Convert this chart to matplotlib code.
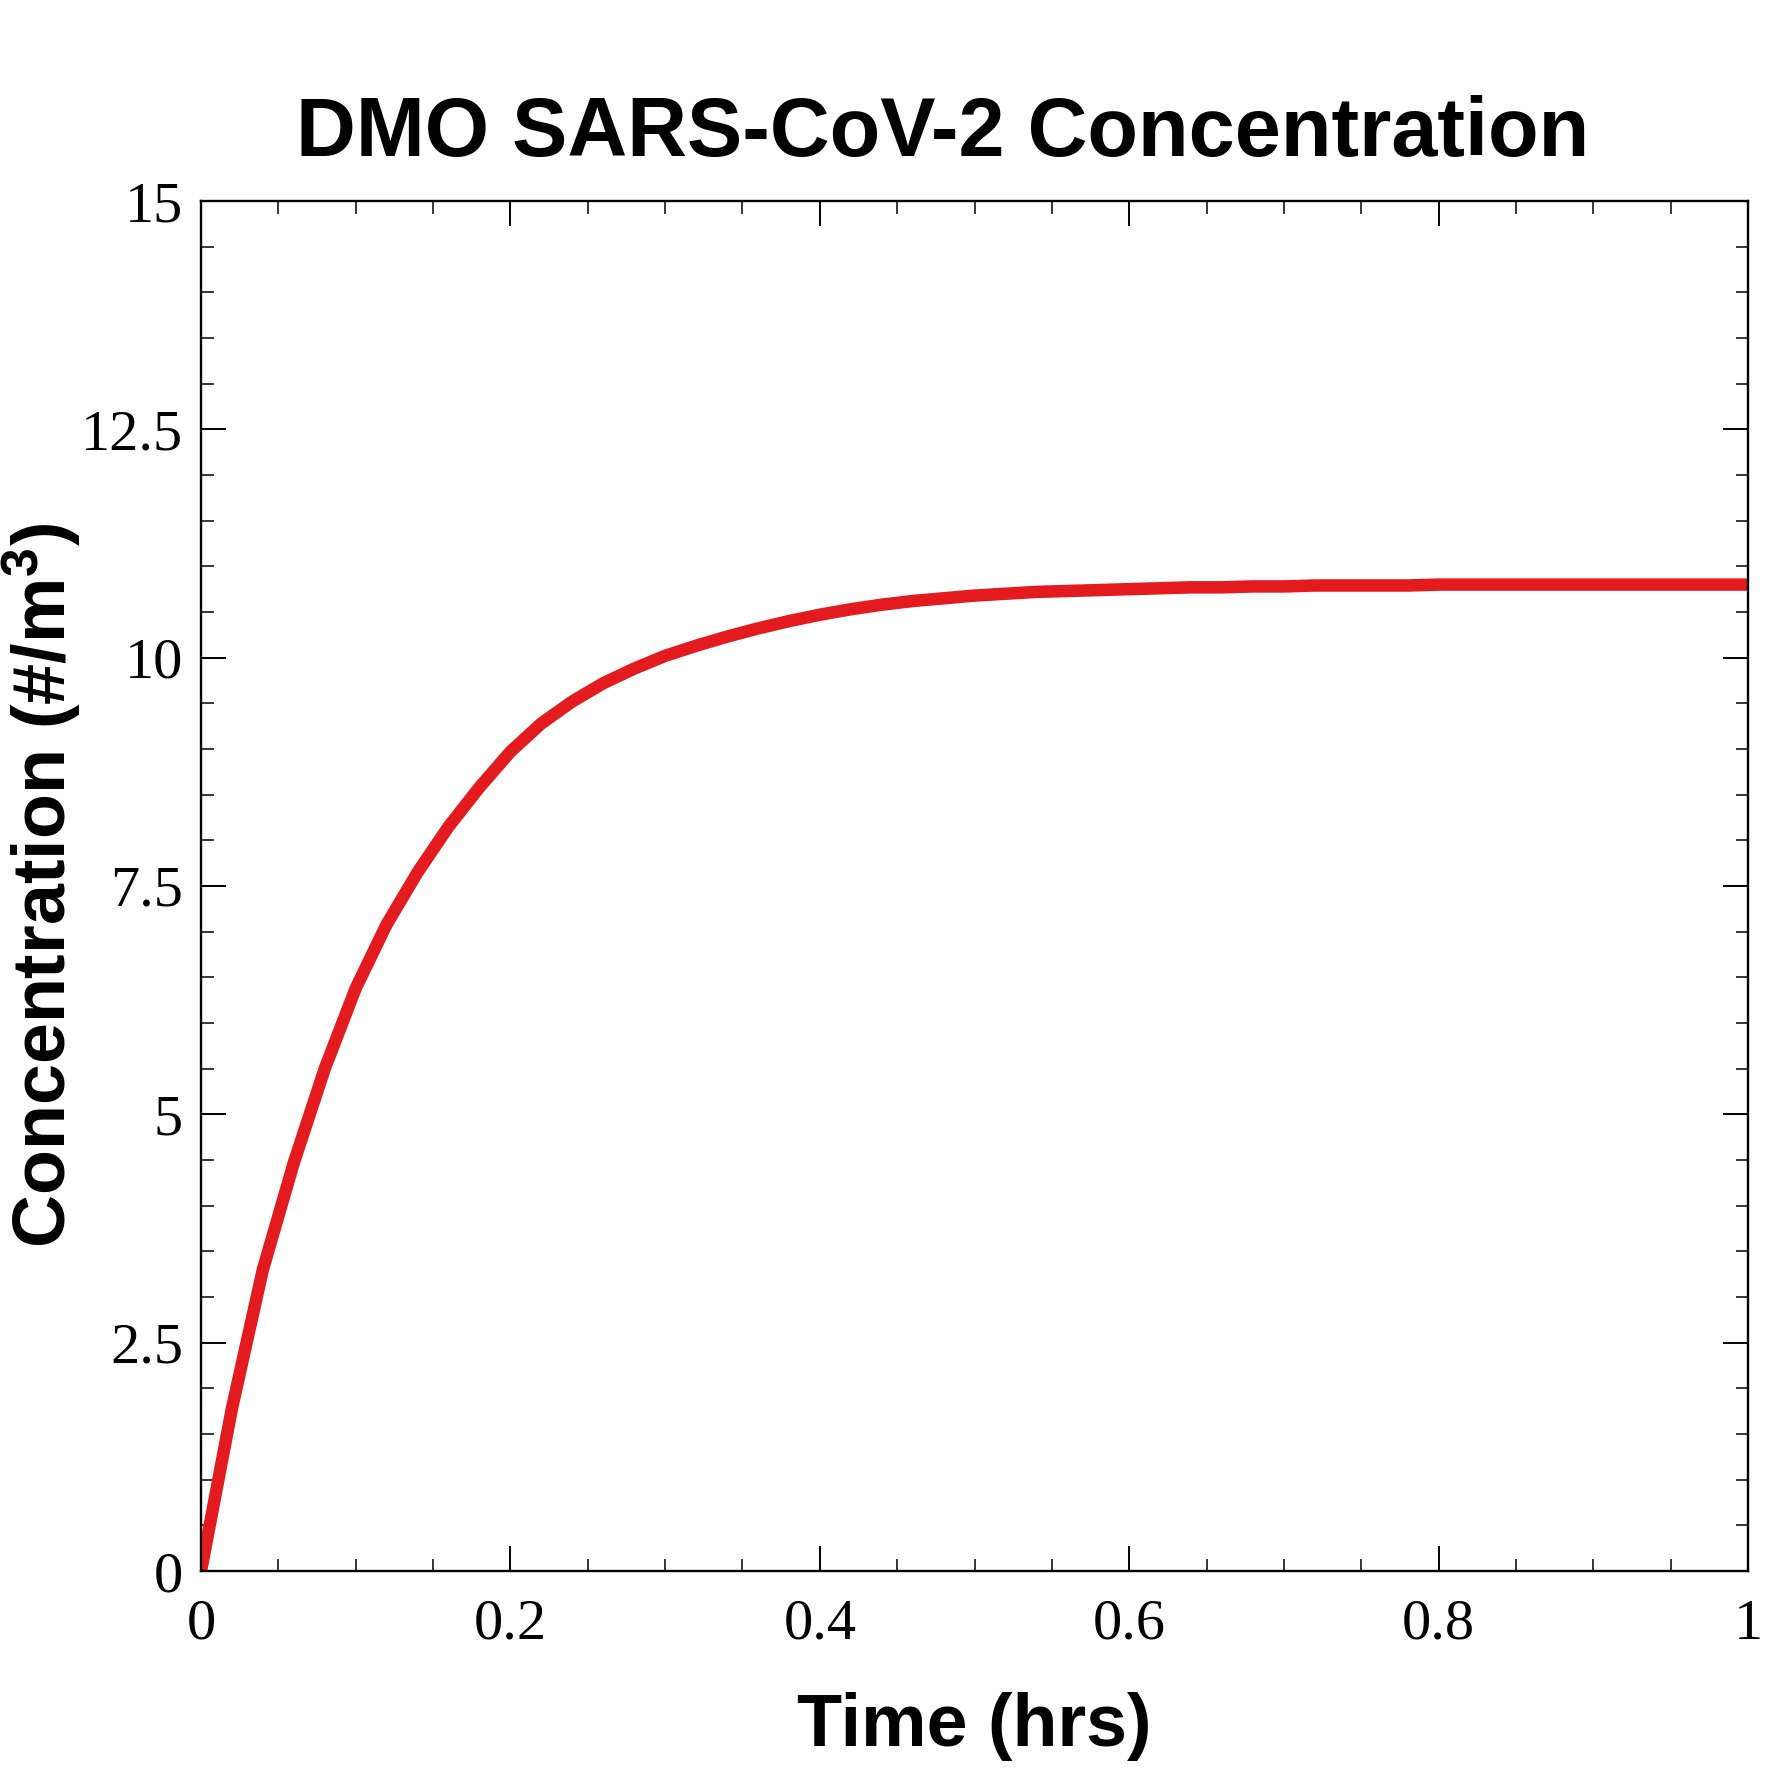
import matplotlib
matplotlib.use("Agg")

import numpy as np
import matplotlib.pyplot as plt
from matplotlib.ticker import MultipleLocator

# Data (time in hrs, concentration in #/m^3)
time_hrs = [0.00, 0.02, 0.04, 0.06, 0.08, 0.10, 0.12, 0.14, 0.16, 0.18,
            0.20, 0.22, 0.24, 0.26, 0.28, 0.30, 0.32, 0.34, 0.36, 0.38,
            0.40, 0.42, 0.44, 0.46, 0.48, 0.50, 0.52, 0.54, 0.56, 0.58,
            0.60, 0.62, 0.64, 0.66, 0.68, 0.70, 0.72, 0.74, 0.76, 0.78,
            0.80, 0.82, 0.84, 0.86, 0.88, 0.90, 0.92, 0.94, 0.96, 0.98,
            1.00]
concentration = [0.00, 1.78, 3.30, 4.47, 5.50, 6.38, 7.08, 7.65, 8.15, 8.58,
                 8.97, 9.28, 9.52, 9.72, 9.88, 10.02, 10.13, 10.23, 10.32, 10.40,
                 10.47, 10.53, 10.58, 10.62, 10.65, 10.68, 10.70, 10.72, 10.73, 10.74,
                 10.75, 10.76, 10.77, 10.77, 10.78, 10.78, 10.79, 10.79, 10.79, 10.79,
                 10.80, 10.80, 10.80, 10.80, 10.80, 10.80, 10.80, 10.80, 10.80, 10.80,
                 10.80]

x_ticks = [0, 0.2, 0.4, 0.6, 0.8, 1]
x_tick_labels = ['0', '0.2', '0.4', '0.6', '0.8', '1']
y_ticks = [0, 2.5, 5, 7.5, 10, 12.5, 15]
y_tick_labels = ['0', '2.5', '5', '7.5', '10', '12.5', '15']

title = 'DMO SARS-CoV-2 Concentration'
x_label = 'Time (hrs)'
y_label = r'Concentration (#/m$^3$)'

plt.rcParams['mathtext.fontset'] = 'custom'
plt.rcParams['mathtext.bf'] = 'Liberation Sans:bold'
plt.rcParams['mathtext.rm'] = 'Liberation Sans:bold'
plt.rcParams['mathtext.default'] = 'bf'

fig = plt.figure(figsize=(17.71, 17.71), dpi=100)
ax = fig.add_axes([201 / 1771, 200 / 1771, 1547 / 1771, 1370 / 1771])

ax.plot(time_hrs, concentration, color='#e31b1f', linewidth=9)

ax.set_xlim(0, 1)
ax.set_ylim(0, 15)
ax.set_xticks(x_ticks)
ax.set_xticklabels(x_tick_labels)
ax.set_yticks(y_ticks)
ax.set_yticklabels(y_tick_labels)
ax.xaxis.set_minor_locator(MultipleLocator(0.05))
ax.yaxis.set_minor_locator(MultipleLocator(0.5))

ax.tick_params(which='both', direction='in', top=True, right=True, colors='black')
ax.tick_params(which='major', length=18, width=1.4)
ax.tick_params(which='minor', length=9, width=1.1)
ax.tick_params(axis='x', which='major', pad=20)
ax.tick_params(axis='y', which='major', pad=13)
for lab in ax.get_xticklabels() + ax.get_yticklabels():
    lab.set_fontfamily('Liberation Serif')
    lab.set_fontsize(42)

for sp in ax.spines.values():
    sp.set_linewidth(1.7)

fig.text(943 / 1771, 1 - 156 / 1771, title, ha='center', va='baseline',
         fontsize=59.7, fontweight='bold', family='Liberation Sans')
fig.text(974 / 1771, 1 - 1746 / 1771, x_label, ha='center', va='baseline',
         fontsize=53, fontweight='bold', family='Liberation Sans')
fig.text(42 / 1771, 886 / 1771, y_label, ha='center', va='center', rotation=90,
         fontsize=53, fontweight='bold', family='Liberation Sans')

fig.savefig('out.png', dpi=100, facecolor='white')
